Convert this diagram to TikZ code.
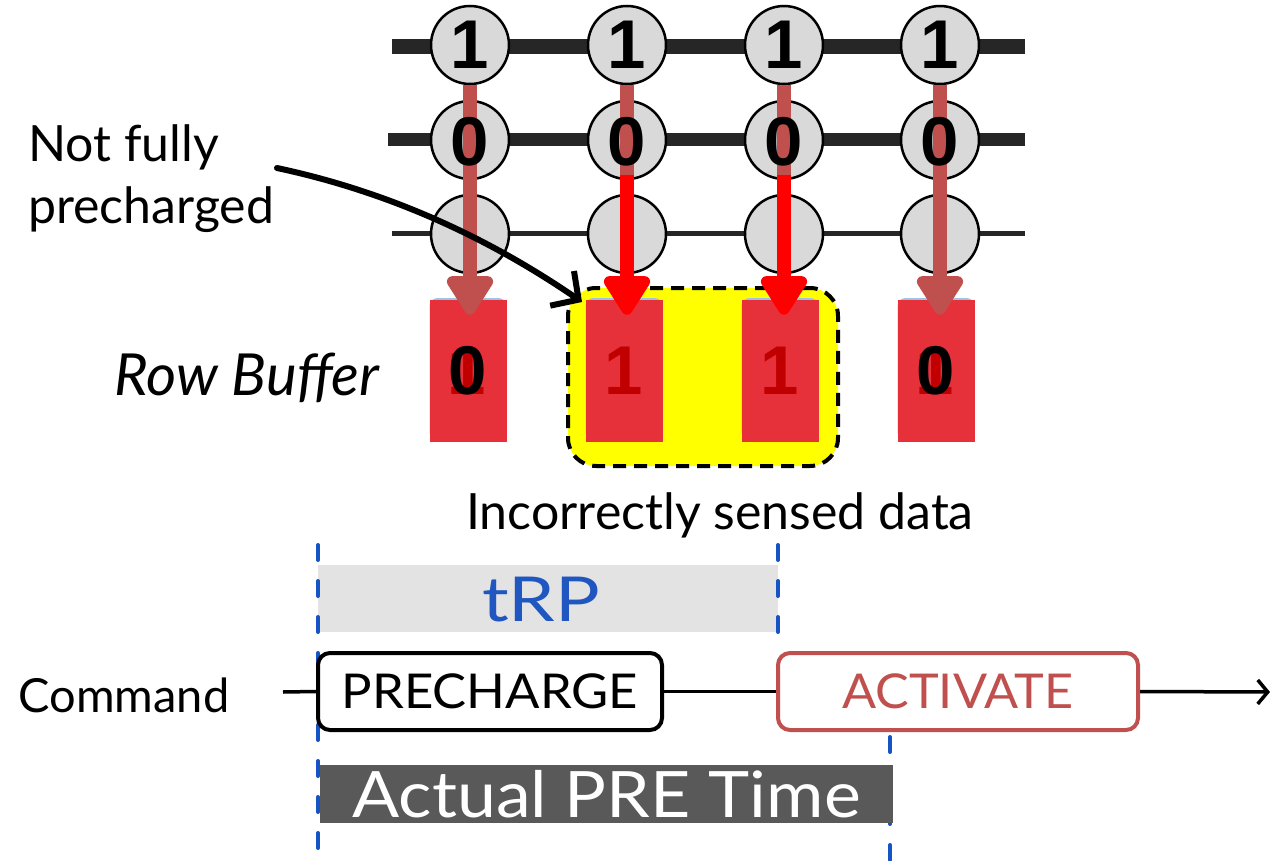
\documentclass[tikz,border=0pt]{standalone}
\usepackage{graphicx}
\usepackage{fontspec}
\setmainfont{Lato}
\newfontfamily\digitfont{Liberation Sans}
\usetikzlibrary{arrows.meta}
\definecolor{wline}{HTML}{262626}
\definecolor{cellfill}{HTML}{D9D9D9}
\definecolor{lred}{HTML}{C0504D}
\definecolor{bred}{HTML}{FF0000}
\definecolor{boxred}{HTML}{E6303A}
\definecolor{dred}{HTML}{C00000}
\definecolor{shadowblue}{HTML}{9DC3E6}
\definecolor{tblue}{HTML}{1F56C0}
\definecolor{dashblue}{HTML}{1454C4}
\definecolor{trpgray}{HTML}{E3E3E3}
\definecolor{pregray}{HTML}{595959}
\definecolor{hyellow}{HTML}{FFFF00}
\tikzset{
  fs/.style={font=\fontsize{#1}{#1}\selectfont},
  digit/.style={font=\digitfont\bfseries\fontsize{69}{69}\selectfont},
  cell/.style={circle, minimum size=78pt, inner sep=0pt, fill=cellfill, draw=black, line width=2.5pt},
  rbox/.style={rectangle, minimum width=77pt, minimum height=142pt, inner sep=0pt, fill=boxred},
  rshadow/.style={rectangle, rounded corners=8pt, minimum width=77pt, minimum height=142pt, inner sep=0pt, fill=shadowblue},
  flowarrow/.style={line width=14pt, -{Triangle[length=44pt, width=52pt, round]}},
  bdash/.style={draw=dashblue, line width=4pt, line cap=round, dash pattern=on 15pt off 21pt},
  cmdbox/.style={rectangle, rounded corners=12pt, line width=4pt, minimum width=#1, minimum height=77pt, inner sep=0pt, fill=white, font=\fontsize{48}{48}\selectfont},
}
\begin{document}
\begin{tikzpicture}[x=1pt,y=-1pt]
\useasboundingbox (0,0) rectangle (1272,861);

% word lines
\draw[wline, line width=15pt] (392,47) -- (1025,47);
\draw[wline, line width=13pt] (388,140) -- (1025,140);
\draw[wline, line width=5pt] (392,234) -- (1025,234);

% yellow highlight
\node[draw=black, line width=4pt, dash pattern=on 13pt off 8pt, fill=hyellow, rounded corners=28pt,
  minimum width=270pt, minimum height=178pt] (yb) at (703,377) {};

% cells
\foreach \i/\x in {1/470,2/627,3/784,4/940}{
  \node[cell] (a\i) at (\x,45) {};
  \node[cell] (b\i) at (\x,140) {};
  \node[cell] (c\i) at (\x,234) {};
}

% row buffer
\foreach \i/\x in {1/468,2/624,3/780,4/936}{
  \node[rshadow] at (\x,369) {};
  \node[rbox] (r\i) at (\x,371) {};
}

% arrows
\draw[flowarrow, lred] (a1.south) -- ([yshift=-15pt]r1.north -| a1);
\draw[flowarrow, lred] (a4.south) -- ([yshift=-15pt]r4.north -| a4);
\draw[lred, line width=14pt] (a2.south) -- ([yshift=-35pt]b2.center);
\draw[lred, line width=14pt] (a3.south) -- ([yshift=-35pt]b3.center);
\draw[flowarrow, bred] ([yshift=-35pt]b2.center) -- ([yshift=-15pt]r2.north -| b2);
\draw[flowarrow, bred] ([yshift=-35pt]b3.center) -- ([yshift=-15pt]r3.north -| b3);

% digits
\foreach \i in {1,2,3,4}{
  \node[digit] at (a\i) {1};
  \node[digit] at ([yshift=-2pt]b\i.center) {0};
}
\node[digit, text=dred] at ([xshift=-1pt]r1.center) {1};
\node[digit, text=black] at (r1) {0};
\node[digit, text=dred] at (r2) {1};
\node[digit, text=dred] at (r3) {1};
\node[digit, text=dred] at ([xshift=-1pt]r4.center) {1};
\node[digit, text=black] at (r4) {0};

% labels
\node[font=\fontsize{50}{62}\selectfont, align=left, anchor=north west, inner sep=0pt] (nfp) at (28,124) {Not fully\\precharged};
\coordinate (cs) at (277,168);
\coordinate (ce) at (582,302);
\draw[line width=6pt, line cap=round, -{Straight Barb[length=20pt, width=42pt, line width=6pt]}]
  (cs) .. controls (380,190) and (480,232) .. (ce);
\node[font=\itshape\fontsize{58}{58}\selectfont] (rbl) at (247,378) {Row Buffer};
\node[fs=50] (isd) at (720,515) {Incorrectly sensed data};

% timeline
\fill[trpgray] (318,565) rectangle (778,632);
\node[fs=62, text=tblue] (trp) at (541,600) {\scalebox{1.2}[1]{tRP}};
\draw[bdash] (318,545) -- (318,861);
\draw[bdash] (778,545) -- (778,636);
\draw[bdash] (890,737) -- (890,861);

\node[fs=47] (cmd) at (124,695) {Command};
\node[cmdbox=344pt, draw=black] (pre) at (490,691.5) {\scalebox{1.06}[1]{PRECHARGE}};
\node[cmdbox=360pt, draw=lred, text=lred] (act) at (958,691.5) {\scalebox{1.05}[1]{ACTIVATE}};
\coordinate (cstart) at (283,692);
\coordinate (cend) at (1270,692);
\draw[line width=3.5pt] (cstart) -- (pre.west);
\draw[line width=3.5pt] (pre.east) -- (act.west);
\draw[line width=3.5pt, -{Straight Barb[length=10pt, width=24pt, line width=3.5pt]}] (act.east) -- (cend);

\node[fill=pregray, minimum width=573pt, minimum height=58pt, inner sep=0pt, text=white,
  font=\fontsize{64}{64}\selectfont] (apt) at (606.5,794) {\scalebox{1.09}[1]{Actual PRE Time}};
\end{tikzpicture}
\end{document}
